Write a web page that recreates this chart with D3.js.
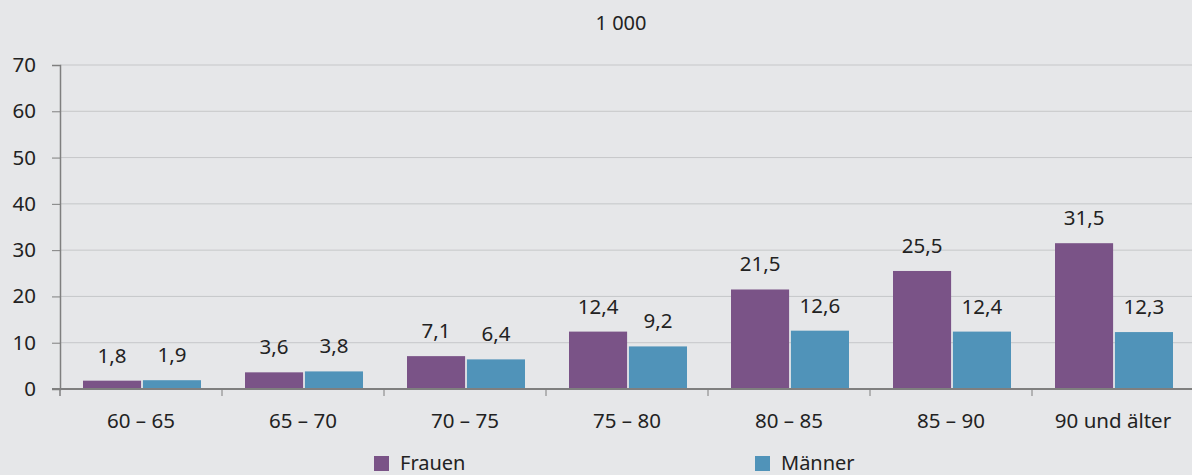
<!DOCTYPE html>
<html>
<head>
<meta charset="utf-8">
<script src="https://cdn.jsdelivr.net/npm/d3@7"></script>
<style>
  body { margin: 0; background: #e6e7e9; }
  svg { display: block; font-family: "Noto Sans", "Open Sans", sans-serif; }
  .tick text { fill: #222; }
</style>
</head>
<body>
<div id="chart"></div>
<script>
// categories and series
var categories = ["60 – 65", "65 – 70", "70 – 75", "75 – 80", "80 – 85", "85 – 90", "90 und älter"];
var seriesNames = ["Frauen", "Männer"];
var frauen = [1.8, 3.6, 7.1, 12.4, 21.5, 25.5, 31.5];
var maenner = [1.9, 3.8, 6.4, 9.2, 12.6, 12.4, 12.3];
var yTicks = [0, 10, 20, 30, 40, 50, 60, 70];
var colors = ["#7a5387", "#5093b9"];

var width = 1192, height = 475;
var margin = {top: 65, right: 0, bottom: 86, left: 60};
var fontSize = "20.5px";

var svg = d3.select("#chart").append("svg")
    .attr("width", width)
    .attr("height", height)
    .style("background", "#e6e7e9");

var x0 = d3.scaleBand()
    .domain(categories)
    .range([margin.left, margin.left + 162 * 7])
    .paddingInner(0)
    .paddingOuter(0);

var x1 = d3.scaleBand()
    .domain(seriesNames)
    .range([23, 162 - 21])
    .paddingInner(0.03);

var y = d3.scaleLinear()
    .domain([0, 70])
    .range([height - margin.bottom, margin.top]);

var fmt = function(v) { return d3.format(".1f")(v).replace(".", ","); };

// gridlines
svg.append("g")
  .selectAll("line")
  .data(yTicks.slice(1))
  .join("line")
    .attr("x1", margin.left)
    .attr("x2", width)
    .attr("y1", function(d) { return y(d); })
    .attr("y2", function(d) { return y(d); })
    .attr("stroke", "#c6c7c9")
    .attr("stroke-width", 1);

// y axis
var yAxis = svg.append("g")
    .attr("transform", "translate(" + margin.left + ",0)")
    .call(d3.axisLeft(y).tickValues(yTicks).tickSize(8).tickPadding(16));
yAxis.attr("font-family", null).attr("font-size", null);
yAxis.select(".domain").attr("stroke", "#7f7f7f").attr("stroke-width", 1.5);
yAxis.selectAll(".tick line").attr("stroke", "#7f7f7f");
yAxis.selectAll(".tick text").style("font-size", fontSize);

// bars
var rows = categories.map(function(c, i) {
  return {cat: c, vals: [{s: seriesNames[0], v: frauen[i]}, {s: seriesNames[1], v: maenner[i]}]};
});

var groups = svg.append("g")
  .selectAll("g")
  .data(rows)
  .join("g")
    .attr("transform", function(d) { return "translate(" + x0(d.cat) + ",0)"; });

groups.selectAll("rect")
  .data(function(d) { return d.vals; })
  .join("rect")
    .attr("x", function(d) { return x1(d.s); })
    .attr("y", function(d) { return y(d.v); })
    .attr("width", x1.bandwidth())
    .attr("height", function(d) { return y(0) - y(d.v); })
    .attr("fill", function(d, i) { return colors[i]; });

groups.selectAll("text")
  .data(function(d) { return d.vals; })
  .join("text")
    .attr("x", function(d) { return x1(d.s) + x1.bandwidth() / 2; })
    .attr("y", function(d) { return y(d.v) - 18; })
    .attr("text-anchor", "middle")
    .style("font-size", fontSize)
    .attr("fill", "#222")
    .text(function(d) { return fmt(d.v); });

// x axis with ticks between groups
var xAxis = svg.append("g")
    .attr("transform", "translate(0," + y(0) + ")");
xAxis.append("line")
    .attr("x1", margin.left - 8)
    .attr("x2", width)
    .attr("stroke", "#7f7f7f")
    .attr("stroke-width", 2);
xAxis.selectAll("line.sep")
  .data(categories.slice(1))
  .join("line")
    .attr("class", "sep")
    .attr("x1", function(d) { return x0(d); })
    .attr("x2", function(d) { return x0(d); })
    .attr("y1", 0)
    .attr("y2", 7)
    .attr("stroke", "#7f7f7f");
xAxis.append("line")
    .attr("x1", margin.left).attr("x2", margin.left)
    .attr("y1", 0).attr("y2", 7)
    .attr("stroke", "#7f7f7f").attr("stroke-width", 1.5);
xAxis.selectAll("text")
  .data(categories)
  .join("text")
    .attr("x", function(d) { return x0(d) + x0.bandwidth() / 2; })
    .attr("y", 39)
    .attr("text-anchor", "middle")
    .style("font-size", fontSize)
    .attr("fill", "#222")
    .text(function(d) { return d; });

// unit title
svg.append("text")
    .attr("x", 621)
    .attr("y", 30)
    .attr("text-anchor", "middle")
    .style("font-size", "20px")
    .attr("fill", "#222")
    .text("1 000");

// legend
var legendX = [374, 755];
var legend = svg.append("g")
  .selectAll("g")
  .data(seriesNames)
  .join("g")
    .attr("transform", function(d, i) { return "translate(" + legendX[i] + ",455)"; });
legend.append("rect")
    .attr("y", 1)
    .attr("width", 15)
    .attr("height", 15)
    .attr("fill", function(d, i) { return colors[i]; });
legend.append("text")
    .attr("x", 26)
    .attr("y", 15)
    .style("font-size", "20px")
    .attr("fill", "#222")
    .text(function(d) { return d; });
</script>
</body>
</html>
